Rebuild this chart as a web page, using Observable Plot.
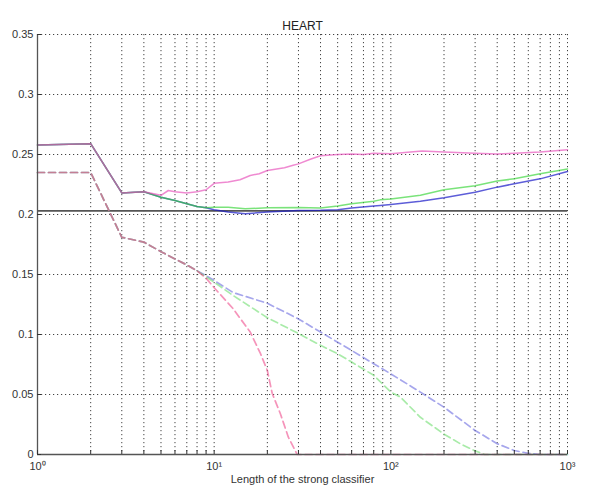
<!DOCTYPE html>
<html><head><meta charset="utf-8">
<script src="https://cdn.jsdelivr.net/npm/d3@7"></script>
<script src="https://cdn.jsdelivr.net/npm/@observablehq/plot@0.6"></script>
<style>
body{margin:0;background:#fff;}
#chart svg{display:block;background:#fff;}
</style></head><body><div id="chart"></div>
<script>
const title = "HEART";
const xLabel = "Length of the strong classifier";
const xMajorTicks = [1, 10, 100, 1000];
const xMajorLabels = ["10⁰", "10¹", "10²", "10³"];
const xGrid = [1,2,3,4,5,6,7,8,9,10,20,30,40,50,60,70,80,90,100,200,300,400,500,600,700,800,900,1000];
const yTicks = [0, 0.05, 0.1, 0.15, 0.2, 0.25, 0.3, 0.35];
const yTickLabels = ["0", "0.05", "0.1", "0.15", "0.2", "0.25", "0.3", "0.35"];
const baselineValue = [0.203];

// solid curves
const solidPinkX = [1,2,3,4,5,5.5,6,7,8,9,10,12,14,16,18,20,25,28,30,35,40,50,60,70,80,100,150,200,300,400,500,700,1000];
const solidPinkY = [0.258,0.259,0.218,0.219,0.216,0.220,0.219,0.218,0.219,0.2206,0.226,0.227,0.229,0.2325,0.234,0.2367,0.239,0.241,0.2422,0.246,0.249,0.250,0.2505,0.250,0.251,0.2506,0.253,0.252,0.251,0.2505,0.251,0.252,0.254];
const solidGBX = [1,2,3,4,5,6,7,8,9,10,12,15,20,30,40,50,60,80,87,100,147,200,300,400,500,700,1000];
const solidGreenY = [0.258,0.259,0.218,0.219,0.2144,0.2117,0.209,0.2067,0.2056,0.206,0.206,0.2047,0.2056,0.2058,0.2055,0.207,0.209,0.211,0.2122,0.213,0.216,0.2206,0.224,0.228,0.2297,0.234,0.238];
const solidBlueY = [0.258,0.259,0.218,0.219,0.2144,0.2117,0.209,0.2067,0.2056,0.204,0.202,0.2006,0.202,0.2033,0.2035,0.204,0.2055,0.207,0.2075,0.2083,0.211,0.214,0.2186,0.2228,0.2256,0.2297,0.2358];

// dashed curves
const dashPinkX = [1,2,3,4,5,6,7,8,9,10,12.8,16,18.3,20,21.3,23.7,26.3,29.5,1000];
const dashPinkY = [0.235,0.235,0.181,0.177,0.169,0.163,0.158,0.153,0.147,0.139,0.1215,0.102,0.084,0.070,0.051,0.034,0.0144,0,0];
const dashBlueX = [1,2,3,4,5,6,7,8,9,10,12.8,20,30,40,50,60,80,100,147,200,300,400,500,600,700,1000];
const dashBlueY = [0.235,0.235,0.181,0.177,0.169,0.163,0.158,0.153,0.149,0.145,0.135,0.126,0.113,0.102,0.0936,0.0867,0.0756,0.0672,0.052,0.0394,0.020,0.009,0.0033,0.001,0,0];
const dashGreenX = [1,2,3,4,5,6,7,8,9,10,12.8,20,30,40,50,60,80,100,113,147,200,247,300,340,1000];
const dashGreenY = [0.235,0.235,0.181,0.177,0.169,0.163,0.158,0.153,0.148,0.1436,0.1325,0.114,0.1008,0.091,0.084,0.077,0.066,0.052,0.048,0.031,0.017,0.009,0.003,0,0];

const pts = (xs, ys) => xs.map((x, i) => ({x, y: ys[i]}));
const xLab = new Map(xMajorTicks.map((d, i) => [d, xMajorLabels[i]]));
const yLab = new Map(yTicks.map((d, i) => [d, yTickLabels[i]]));

const gridStyle = {stroke: "#222", strokeOpacity: 0.85, strokeDasharray: "1.2,2.8", strokeWidth: 1};
const dash = "7,4";

const chart = Plot.plot({
  width: 599,
  height: 490,
  marginLeft: 37,
  marginRight: 32,
  marginTop: 34,
  marginBottom: 36,
  x: {type: "log", domain: [1, 1000], label: null},
  y: {domain: [0, 0.35], label: null},
  style: {fontFamily: "'Liberation Sans', Arial, sans-serif", fontSize: "11px", color: "#333", background: "#fff"},
  marks: [
    Plot.ruleX(xGrid, gridStyle),
    Plot.ruleY(yTicks, gridStyle),
    Plot.ruleY(baselineValue, {stroke: "#555", strokeWidth: 1.6}),
    Plot.line(pts(dashBlueX, dashBlueY), {x: "x", y: "y", stroke: "#6a6ae0", strokeOpacity: 0.6, strokeWidth: 1.7, strokeDasharray: dash}),
    Plot.line(pts(dashGreenX, dashGreenY), {x: "x", y: "y", stroke: "#70dd70", strokeOpacity: 0.6, strokeWidth: 1.7, strokeDasharray: dash}),
    Plot.line(pts(dashPinkX, dashPinkY), {x: "x", y: "y", stroke: "#ee4c8c", strokeOpacity: 0.6, strokeWidth: 1.7, strokeDasharray: dash}),
    Plot.line(pts(solidGBX, solidBlueY), {x: "x", y: "y", stroke: "#1818c8", strokeOpacity: 0.7, strokeWidth: 1.5}),
    Plot.line(pts(solidGBX, solidGreenY), {x: "x", y: "y", stroke: "#33d433", strokeOpacity: 0.65, strokeWidth: 1.5}),
    Plot.line(pts(solidPinkX, solidPinkY), {x: "x", y: "y", stroke: "#e64cb8", strokeOpacity: 0.65, strokeWidth: 1.5}),
    Plot.ruleX([1], {stroke: "#555", strokeWidth: 1.3}),
    Plot.ruleY([0], {stroke: "#555", strokeWidth: 1.3}),
    Plot.axisX(xGrid, {tickSize: -4, text: null, stroke: "#333", label: null}),
    Plot.axisX(xMajorTicks, {tickSize: 0, tickPadding: 8, tickFormat: d => xLab.get(d), label: null, fill: "#333"}),
    Plot.axisY(yTicks, {tickSize: -4, text: null, stroke: "#333", label: null}),
    Plot.axisY(yTicks, {tickSize: 0, tickPadding: 4, tickFormat: d => yLab.get(d), label: null, fill: "#333"}),
    Plot.text([title], {frameAnchor: "top", dy: -13, fontSize: 12, fill: "#222"}),
    Plot.text([xLabel], {frameAnchor: "bottom", dy: 28, fontSize: 11, fill: "#333"})
  ]
});
document.getElementById("chart").appendChild(chart);
</script>
</body></html>
